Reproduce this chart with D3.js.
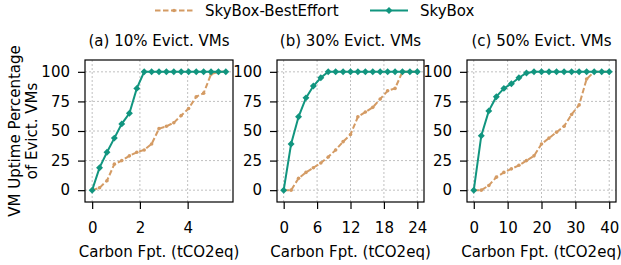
<!DOCTYPE html>
<html>
<head>
<meta charset="utf-8">
<script src="https://cdn.jsdelivr.net/npm/d3@7"></script>
<style>
  body { margin: 0; background: #fff; }
  text { font-family: "DejaVu Sans", sans-serif; }
</style>
</head>
<body>
<div id="chart"></div>
<script>
// titles and series names
const panelTitles = ["(a) 10% Evict. VMs", "(b) 30% Evict. VMs", "(c) 50% Evict. VMs"];
const seriesNames = ["SkyBox-BestEffort", "SkyBox"];

// carbon footprint (x) for each panel
const carbonA = [0, 0.31, 0.62, 0.93, 1.24, 1.56, 1.87, 2.18, 2.49, 2.8, 3.11, 3.42, 3.73, 4.04, 4.36, 4.67, 4.98, 5.29, 5.6];
const carbonB = [0, 1.33, 2.67, 4, 5.33, 6.67, 8, 9.33, 10.67, 12, 13.33, 14.67, 16, 17.33, 18.67, 20, 21.33, 22.67, 24];
const carbonC = [0, 2.22, 4.44, 6.67, 8.89, 11.11, 13.33, 15.56, 17.78, 20, 22.22, 24.44, 26.67, 28.89, 31.11, 33.33, 35.56, 37.78, 40];

// uptime % for SkyBox-BestEffort
const bestEffortA = [0, 2, 8, 22, 25, 29, 32, 34, 39, 52, 54, 57, 63, 69, 79, 82, 98, 100, 100];
const bestEffortB = [0, 0, 10, 15, 19, 23, 28, 34, 41, 47, 62, 66, 70, 77, 84, 86, 100, 100, 100];
const bestEffortC = [0, 0, 4, 11, 15, 18, 21, 25, 29, 39, 44, 49, 54, 64, 72, 94, 100, 100, 100];

// uptime % for SkyBox
const skyboxA = [0, 19, 32, 44, 56, 65, 86, 100, 100, 100, 100, 100, 100, 100, 100, 100, 100, 100, 100];
const skyboxB = [0, 39, 62, 78, 88, 95, 100, 100, 100, 100, 100, 100, 100, 100, 100, 100, 100, 100, 100];
const skyboxC = [0, 46, 67, 79, 86, 90, 95, 99, 100, 100, 100, 100, 100, 100, 100, 100, 100, 100, 100];

// tick labels
const xTicksA = [0, 2, 4];
const xTicksB = [0, 6, 12, 18, 24];
const xTicksC = [0, 10, 20, 30, 40];
const yTicks = [0, 25, 50, 75, 100];

const width = 621, height = 265;
const colorBest = "#d49b64", colorSky = "#11957f";
const fontSize = 15;

const svg = d3.select("#chart").append("svg")
    .attr("width", width)
    .attr("height", height);

const panels = [
    { title: panelTitles[0], x: carbonA, best: bestEffortA, sky: skyboxA, ticks: xTicksA, dom: [-0.3, 5.9], left: 85, right: 233 },
    { title: panelTitles[1], x: carbonB, best: bestEffortB, sky: skyboxB, ticks: xTicksB, dom: [-1.2, 25.2], left: 277, right: 424 },
    { title: panelTitles[2], x: carbonC, best: bestEffortC, sky: skyboxC, ticks: xTicksC, dom: [-2, 42], left: 467, right: 616 }
];
const plotTop = 60, plotBottom = 202;

const y = d3.scaleLinear().domain([-10, 110]).range([plotBottom, plotTop]);
const diamond = d3.symbol().type(d3.symbolSquare).size(24);

panels.forEach((p, pi) => {
    const x = d3.scaleLinear().domain(p.dom).range([p.left, p.right]);
    const g = svg.append("g");

    // grid
    g.selectAll(".gx").data(p.ticks).enter().append("line")
        .attr("x1", d => x(d)).attr("x2", d => x(d))
        .attr("y1", plotTop).attr("y2", plotBottom)
        .attr("stroke", "#b0b0b0").attr("stroke-width", 0.8).attr("stroke-dasharray", "2,2");
    g.selectAll(".gy").data(yTicks).enter().append("line")
        .attr("x1", p.left).attr("x2", p.right)
        .attr("y1", d => y(d)).attr("y2", d => y(d))
        .attr("stroke", "#b0b0b0").attr("stroke-width", 0.8).attr("stroke-dasharray", "2,2");

    // axes
    const xAxis = g.append("g")
        .attr("transform", `translate(0,${plotBottom})`)
        .call(d3.axisBottom(x).tickValues(p.ticks).tickFormat(d3.format("d"))
            .tickSize(7).tickPadding(13).tickSizeOuter(0));
    xAxis.select(".domain").remove();
    xAxis.selectAll("line").attr("stroke-width", 1.2);
    xAxis.selectAll("text").attr("font-size", fontSize).attr("font-family", "DejaVu Sans");

    const yAxis = g.append("g")
        .attr("transform", `translate(${p.left},0)`)
        .call(d3.axisLeft(y).tickValues(yTicks).tickSize(7).tickPadding(8).tickSizeOuter(0));
    yAxis.select(".domain").remove();
    yAxis.selectAll("line").attr("stroke-width", 1.2);
    yAxis.selectAll("text").attr("font-size", fontSize).attr("font-family", "DejaVu Sans");

    const line = d3.line().x(d => x(d[0])).y(d => y(d[1]));
    const bestPts = p.x.map((v, i) => [v, p.best[i]]);
    const skyPts = p.x.map((v, i) => [v, p.sky[i]]);

    g.append("path").datum(bestPts)
        .attr("d", line).attr("fill", "none")
        .attr("stroke", colorBest).attr("stroke-width", 2).attr("stroke-dasharray", "5.5,2.5");
    g.selectAll(".bm").data(bestPts).enter().append("circle")
        .attr("cx", d => x(d[0])).attr("cy", d => y(d[1])).attr("r", 1.8)
        .attr("fill", colorBest);

    g.append("path").datum(skyPts)
        .attr("d", line).attr("fill", "none")
        .attr("stroke", colorSky).attr("stroke-width", 2);
    g.selectAll(".sm").data(skyPts).enter().append("path")
        .attr("d", diamond)
        .attr("transform", d => `translate(${x(d[0])},${y(d[1])}) rotate(45)`)
        .attr("fill", colorSky);

    // frame
    g.append("rect")
        .attr("x", p.left).attr("y", plotTop)
        .attr("width", p.right - p.left).attr("height", plotBottom - plotTop)
        .attr("fill", "none").attr("stroke", "#000").attr("stroke-width", 1.2);

    // title
    g.append("text")
        .attr("x", (p.left + p.right) / 2).attr("y", plotTop - 14)
        .attr("text-anchor", "middle").attr("font-size", fontSize)
        .text(p.title);

    // x label
    g.append("text")
        .attr("x", (p.left + p.right) / 2).attr("y", 257)
        .attr("text-anchor", "middle").attr("font-size", fontSize)
        .text("Carbon Fpt. (tCO2eq)");
});

// y label
const ylab = svg.append("text")
    .attr("transform", `translate(20,${(plotTop + plotBottom) / 2}) rotate(-90)`)
    .attr("text-anchor", "middle").attr("font-size", fontSize);
ylab.append("tspan").attr("x", 0).attr("dy", 0).text("VM Uptime Percentage");
ylab.append("tspan").attr("x", 0).attr("dy", 17).text("of Evict. VMs");

// legend
const legend = svg.append("g");
const legendY = 10.5;
const legendItems = [
    { name: seriesNames[0], color: colorBest, x0: 155, dash: "5.5,2.5", mark: "circle" },
    { name: seriesNames[1], color: colorSky, x0: 370, dash: null, mark: "diamond" }
];
legendItems.forEach(it => {
    legend.append("line")
        .attr("x1", it.x0).attr("x2", it.x0 + 38)
        .attr("y1", legendY).attr("y2", legendY)
        .attr("stroke", it.color).attr("stroke-width", 2)
        .attr("stroke-dasharray", it.dash);
    if (it.mark === "circle") {
        legend.append("circle").attr("cx", it.x0 + 19).attr("cy", legendY).attr("r", 1.8).attr("fill", it.color);
    } else {
        legend.append("path").attr("d", diamond)
            .attr("transform", `translate(${it.x0 + 19},${legendY}) rotate(45)`).attr("fill", it.color);
    }
    legend.append("text")
        .attr("x", it.x0 + 50).attr("y", legendY).attr("dy", "0.35em")
        .attr("font-size", fontSize).text(it.name);
});
</script>
</body>
</html>
